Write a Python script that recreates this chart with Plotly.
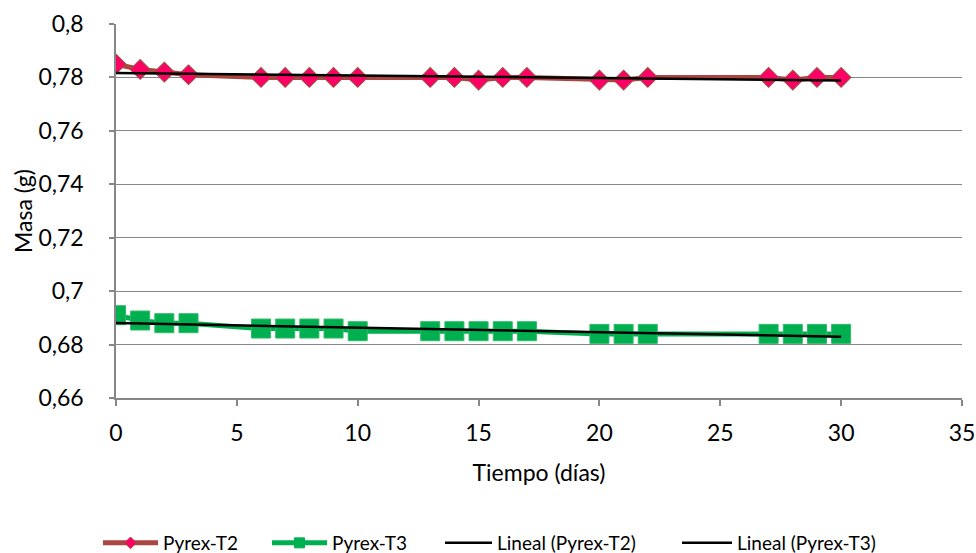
import numpy as np
import plotly.graph_objects as go

# ---- data ----
dias = [0, 1, 2, 3, 6, 7, 8, 9, 10, 13, 14, 15, 16, 17, 20, 21, 22, 27, 28, 29, 30]
masa_t2 = [0.785, 0.783, 0.782, 0.781, 0.780, 0.780, 0.780, 0.780, 0.780, 0.780, 0.780,
           0.779, 0.780, 0.780, 0.779, 0.779, 0.780, 0.780, 0.779, 0.780, 0.780]
masa_t3 = [0.691, 0.689, 0.688, 0.688, 0.686, 0.686, 0.686, 0.686, 0.685, 0.685, 0.685,
           0.685, 0.685, 0.685, 0.684, 0.684, 0.684, 0.684, 0.684, 0.684, 0.684]
series_names = ["Pyrex-T2", "Pyrex-T3", "Lineal (Pyrex-T2)", "Lineal (Pyrex-T3)"]
x_ticks = [0, 5, 10, 15, 20, 25, 30, 35]
y_ticks = [0.66, 0.68, 0.70, 0.72, 0.74, 0.76, 0.78, 0.80]
y_tick_labels = ["0,66", "0,68", "0,7", "0,72", "0,74", "0,76", "0,78", "0,8"]
x_title = "Tiempo (días)"
y_title = "Masa (g)"

# linear trend lines (least squares fit, as in the spreadsheet)
x_arr = np.array(dias, dtype=float)
fit_t2 = np.polyfit(x_arr, np.array(masa_t2), 1)
fit_t3 = np.polyfit(x_arr, np.array(masa_t3), 1)
x_fit = np.array([min(dias), max(dias)], dtype=float)

FONT = "Lato, 'Open Sans', sans-serif"
GRID = "#878787"
T2_LINE = "#AA4540"
T2_FILL = "#FF0066"
T3_COL = "#00B050"

W, H = 976, 553
ML, MR, MT, MB = 116, 14, 24, 155
PLOT_W = W - ML - MR
PLOT_H = H - MT - MB

fig = go.Figure()
fig.add_trace(go.Scatter(
    x=dias, y=masa_t2, mode="lines+markers", name=series_names[0],
    line=dict(color=T2_LINE, width=5),
    marker=dict(symbol="diamond", size=15, color=T2_FILL,
                line=dict(color="#A9443F", width=1.2)),
    showlegend=False))
fig.add_trace(go.Scatter(
    x=dias, y=masa_t3, mode="lines+markers", name=series_names[1],
    line=dict(color=T3_COL, width=5),
    marker=dict(symbol="square", size=19, color=T3_COL,
                line=dict(color="#2DBA66", width=1)),
    showlegend=False))
fig.add_trace(go.Scatter(
    x=x_fit, y=np.polyval(fit_t2, x_fit), mode="lines", name=series_names[2],
    line=dict(color="black", width=2.5), legend="legend3"))
fig.add_trace(go.Scatter(
    x=x_fit, y=np.polyval(fit_t3, x_fit), mode="lines", name=series_names[3],
    line=dict(color="black", width=2.5), legend="legend4"))
# legend twins with smaller markers
fig.add_trace(go.Scatter(
    x=[None], y=[None], mode="lines+markers", name=series_names[0],
    line=dict(color=T2_LINE, width=5),
    marker=dict(symbol="diamond", size=9, color=T2_FILL,
                line=dict(color="#A9443F", width=1)),
    legend="legend"))
fig.add_trace(go.Scatter(
    x=[None], y=[None], mode="lines+markers", name=series_names[1],
    line=dict(color=T3_COL, width=5),
    marker=dict(symbol="square", size=10, color=T3_COL,
                line=dict(color=T3_COL, width=1)),
    legend="legend2"))


def leg(xpx, iw):
    return dict(x=xpx / W, xref="container", xanchor="left",
                y=-(543 - (H - MB)) / PLOT_H, yref="paper", yanchor="middle",
                orientation="h", itemwidth=iw, itemsizing="trace",
                font=dict(family=FONT, size=19, color="black"),
                bgcolor="rgba(0,0,0,0)", borderwidth=0,
                tracegroupgap=0)


fig.update_layout(
    width=W, height=H,
    margin=dict(l=ML, r=MR, t=MT, b=MB, autoexpand=False),
    paper_bgcolor="white", plot_bgcolor="white",
    separators=",.",
    font=dict(family=FONT, size=23, color="black"),
    showlegend=True,
    legend=leg(98, 55),
    legend2=leg(267, 55),
    legend3=leg(440, 47),
    legend4=leg(677, 50),
    xaxis=dict(
        range=[0, 35], tickvals=x_ticks, showgrid=False, zeroline=False,
        showline=True, linecolor=GRID, linewidth=1.5,
        ticks="outside", ticklen=6, tickcolor=GRID, tickwidth=1.5,
        ticklabelstandoff=8,
        tickfont=dict(family=FONT, size=23, color="black"),
        title=dict(text=x_title, standoff=20,
                   font=dict(family=FONT, size=23, color="black")),
    ),
    yaxis=dict(
        range=[0.66, 0.80], tickvals=y_ticks, ticktext=y_tick_labels,
        showgrid=True, gridcolor=GRID, gridwidth=1.2, zeroline=False,
        showline=True, linecolor=GRID, linewidth=1.5,
        ticks="outside", ticklen=5, tickcolor=GRID, tickwidth=1.5,
        ticklabelstandoff=21,
        tickfont=dict(family=FONT, size=23, color="black"),
    ),
    annotations=[dict(
        text=y_title, textangle=-90, showarrow=False,
        xref="paper", x=-93 / PLOT_W, xanchor="center",
        yref="paper", y=0.5, yanchor="middle",
        font=dict(family=FONT, size=23, color="black"))],
)

fig.write_html(
    "out.html",
    config={"displayModeBar": False},
    post_script="document.body.style.margin='0';document.body.style.overflow='hidden';",
)
